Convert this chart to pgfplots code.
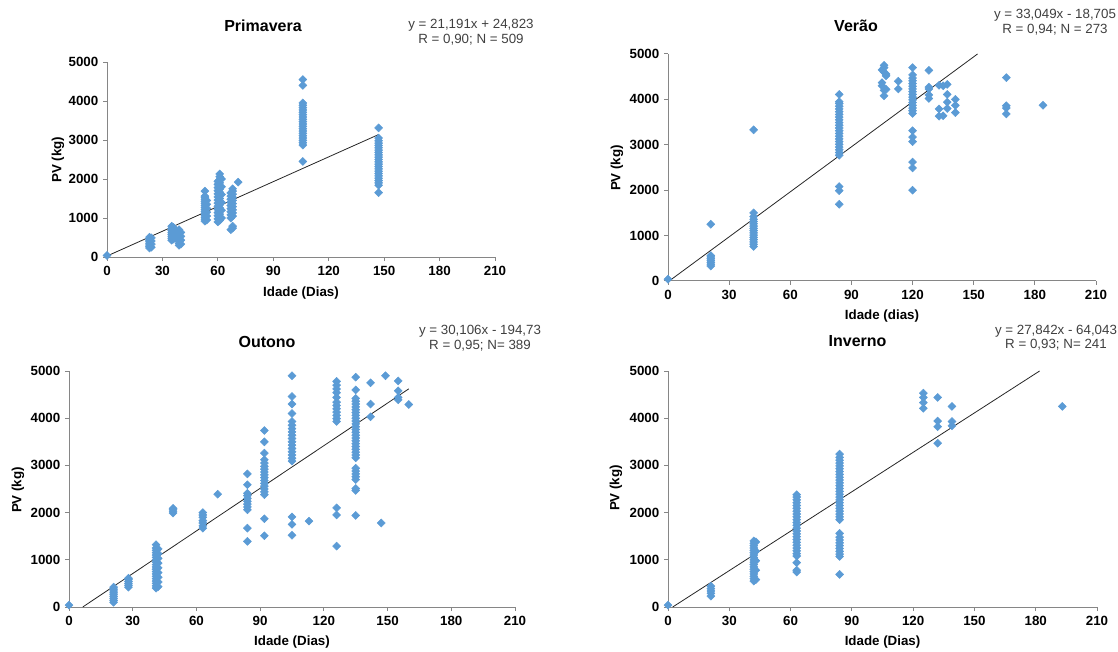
\documentclass[border=0pt]{standalone}
\usepackage{fontspec}
\setmainfont{Liberation Sans}
\setsansfont{Liberation Sans}
\usepackage{pgfplots}
\pgfplotsset{compat=1.18}
\definecolor{pts}{HTML}{5B9BD5}
\definecolor{axgray}{HTML}{868686}
\definecolor{eqgray}{HTML}{404040}

\pgfplotsset{
  panel/.style={
    scale only axis, clip=false,
    xmin=0, xmax=210, ymin=0, ymax=5000,
    xtick={0,30,...,210}, ytick={0,1000,...,5000},
    axis lines=left,
    axis line style={-, draw=axgray, line width=0.75pt},
    tick style={draw=axgray, line width=0.75pt},
    tick align=outside, major tick length=3pt,
    /pgf/number format/assume math mode=true,
    /pgf/number format/1000 sep={},
    ticklabel style={font=\bfseries\fontsize{10}{12}\selectfont},
  },
  dots/.style={only marks, mark=square*, mark size=2.1pt,
    mark options={rotate=45, fill=pts, draw=pts}},
  trend/.style={black!85, line width=0.6pt, no marks},
}
\newcommand{\ttl}[1]{\bfseries\fontsize{12}{14}\selectfont #1}
\newcommand{\lab}[1]{\bfseries\fontsize{10}{12}\selectfont #1}

\begin{document}
\begin{tikzpicture}
\useasboundingbox (0,0) rectangle (838.5pt,488.25pt);

% ---------------- Primavera
\begin{axis}[panel, at={(80.25pt,295.5pt)}, anchor=south west,
  width=291pt, height=146.25pt]
\addplot[trend] coordinates {(0,24.8) (147,3139.9)};
\addplot[dots] coordinates {
 (0,40)
 (23,230)(23,270)(23,310)(23,350)(23,390)(23,430)(23,470)(23,510)(24,250)(24,330)(24,410)(24,490)
 (35,430)(35,480)(35,530)(35,580)(35,630)(35,680)(35,730)(35,790)(36,460)(36,560)(36,660)(36,760)
 (39,300)(39,350)(39,400)(39,450)(39,500)(39,550)(39,600)(39,650)(39,700)(40,330)(40,430)(40,530)(40,630)
 (53,920)(53,970)(53,1020)(53,1070)(53,1120)(53,1170)(53,1220)(53,1270)(53,1320)(53,1370)(53,1420)
 (53,1470)(53,1520)(53,1560)(53,1690)(54,950)(54,1050)(54,1150)(54,1250)(54,1350)(54,1450)
 (60,900)(60,980)(60,1060)(60,1140)(60,1220)(60,1300)(60,1380)(60,1460)(60,1540)(60,1620)(60,1700)
 (60,1780)(60,1860)(60,1940)(61,940)(61,1020)(61,1100)(61,1180)(61,1260)(61,1340)(61,1420)(61,1500)
 (61,1580)(61,1660)(61,1740)(61,1820)(61,1900)(61,1980)(61,2060)(61,2130)(62,1000)(62,1200)(62,1400)
 (62,1600)(62,1800)(62,2000)
 (67,700)(68,740)(68,790)(67,1000)(67,1080)(67,1160)(67,1240)(67,1320)(67,1400)(67,1480)(67,1560)
 (67,1640)(68,1050)(68,1130)(68,1210)(68,1290)(68,1370)(68,1450)(68,1530)(68,1610)(68,1690)(68,1750)
 (71,1920)
 (106,2450)(106,2870)(106,2930)(106,2990)(106,3050)(106,3110)(106,3170)(106,3230)(106,3290)(106,3350)
 (106,3410)(106,3470)(106,3530)(106,3590)(106,3650)(106,3710)(106,3770)(106,3830)(106,3890)(106,3950)
 (106,4400)(106,4550)
 (147,1650)(147,1840)(147,1900)(147,1960)(147,2020)(147,2080)(147,2140)(147,2200)(147,2260)(147,2320)
 (147,2380)(147,2440)(147,2500)(147,2560)(147,2620)(147,2680)(147,2740)(147,2800)(147,2860)(147,2920)
 (147,2980)(147,3050)(147,3310)
};
\end{axis}

% ---------------- Verão
\begin{axis}[panel, at={(501pt,277.5pt)}, anchor=south west,
  width=321pt, height=170.25pt]
\addplot[trend] coordinates {(0.57,0) (151.86,5000)};
\addplot[dots] coordinates {
 (0,40)
 (21,330)(21,370)(21,410)(21,450)(21,490)(21,530)(21,560)(21,1250)
 (42,760)(42,810)(42,860)(42,910)(42,960)(42,1010)(42,1060)(42,1110)(42,1160)(42,1210)(42,1260)
 (42,1310)(42,1360)(42,1420)(42,1500)(42,3330)
 (84,1690)(84,1990)(84,2080)(84,2770)(84,2830)(84,2890)(84,2950)(84,3010)(84,3070)(84,3130)(84,3190)
 (84,3250)(84,3310)(84,3370)(84,3430)(84,3490)(84,3550)(84,3610)(84,3670)(84,3730)(84,3790)(84,3850)
 (84,3910)(84,3950)(84,4110)
 (105,4650)(105,4370)(105,4300)(106,4750)(106,4700)(106,4600)(106,4200)(106,4080)(107,4560)(107,4520)(107,4220)
 (113,4400)(113,4230)
 (120,2000)(120,2490)(120,2620)(120,3070)(120,3170)(120,3310)(120,3690)(120,3750)(120,3810)(120,3870)
 (120,3930)(120,3990)(120,4050)(120,4110)(120,4170)(120,4230)(120,4290)(120,4350)(120,4410)(120,4470)
 (120,4540)(120,4700)
 (128,4640)(128,4270)(128,4230)(128,4100)(128,4020)
 (133,4310)(133,3790)(133,3630)(135,4300)(135,3640)
 (137,4330)(137,4110)(137,3940)(137,3800)
 (141,4000)(141,3870)(141,3710)
 (166,4480)(166,3860)(166,3810)(166,3680)
 (184,3870)
};
\end{axis}

% ---------------- Outono
\begin{axis}[panel, at={(51.75pt,33pt)}, anchor=south west,
  width=334.5pt, height=177pt]
\addplot[trend] coordinates {(6.47,0) (160,4622.2)};
\addplot[dots] coordinates {
 (0,40)
 (21,100)(21,140)(21,180)(21,220)(21,260)(21,300)(21,340)(21,380)(21,420)
 (28,420)(28,460)(28,500)(28,540)(28,580)(28,610)
 (41,400)(41,450)(41,500)(41,550)(41,600)(41,650)(41,700)(41,750)(41,800)(41,850)(41,900)(41,950)
 (41,1000)(41,1050)(41,1100)(41,1150)(41,1200)(41,1250)(41,1320)(42,430)(42,530)(42,630)(42,730)
 (42,830)(42,930)(42,1030)(42,1130)(42,1230)
 (49,1990)(49,2030)(49,2070)(49,2090)
 (63,1670)(63,1720)(63,1780)(63,1830)(63,1900)(63,1950)(63,2000)
 (70,2390)
 (84,1390)(84,1670)(84,2060)(84,2120)(84,2180)(84,2240)(84,2300)(84,2360)(84,2410)(84,2590)(84,2820)
 (92,1510)(92,1870)(92,2380)(92,2440)(92,2500)(92,2560)(92,2620)(92,2680)(92,2740)(92,2800)(92,2860)
 (92,2920)(92,2980)(92,3050)(92,3120)(92,3260)(92,3500)(92,3740)
 (105,1520)(105,1750)(105,1910)(105,3090)(105,3150)(105,3220)(105,3290)(105,3360)(105,3430)(105,3500)
 (105,3570)(105,3640)(105,3710)(105,3780)(105,3850)(105,3930)(105,4100)(105,4300)(105,4460)(105,4900)
 (113,1820)
 (126,1290)(126,1950)(126,2100)(126,3930)(126,3990)(126,4060)(126,4130)(126,4200)(126,4270)(126,4340)
 (126,4440)(126,4540)(126,4620)(126,4700)(126,4780)
 (135,1940)(135,2470)(135,2510)(135,2700)(135,2760)(135,2820)(135,2880)(135,2940)(135,3160)(135,3220)
 (135,3280)(135,3340)(135,3400)(135,3460)(135,3520)(135,3580)(135,3640)(135,3700)(135,3760)(135,3820)
 (135,3880)(135,3940)(135,4000)(135,4060)(135,4120)(135,4180)(135,4240)(135,4300)(135,4360)(135,4420)
 (135,4600)(135,4870)
 (142,4030)(142,4300)(142,4750)
 (147,1780)(149,4900)
 (155,4390)(155,4440)(155,4580)(155,4790)
 (160,4290)
};
\end{axis}

% ---------------- Inverno
\begin{axis}[panel, at={(501pt,33pt)}, anchor=south west,
  width=321.75pt, height=177pt]
\addplot[trend] coordinates {(2.30,0) (181.89,5000)};
\addplot[dots] coordinates {
 (0,40)
 (21,230)(21,290)(21,340)(21,390)(21,440)
 (42,550)(42,600)(42,650)(42,700)(42,750)(42,800)(42,850)(42,900)(42,950)(42,1000)(42,1050)(42,1100)
 (42,1150)(42,1200)(42,1250)(42,1300)(42,1350)(42,1400)(43,580)(43,780)(43,980)(43,1180)(43,1380)
 (63,740)(63,780)(63,940)(63,1080)(63,1130)(63,1190)(63,1250)(63,1310)(63,1370)(63,1430)(63,1490)
 (63,1550)(63,1610)(63,1670)(63,1730)(63,1790)(63,1850)(63,1910)(63,1970)(63,2030)(63,2090)(63,2150)
 (63,2210)(63,2270)(63,2330)(63,2380)
 (84,690)(84,1070)(84,1120)(84,1180)(84,1240)(84,1300)(84,1360)(84,1420)(84,1480)(84,1560)
 (84,1850)(84,1910)(84,1970)(84,2030)(84,2090)(84,2150)(84,2210)(84,2270)(84,2330)(84,2390)(84,2450)
 (84,2510)(84,2570)(84,2630)(84,2690)(84,2750)(84,2810)(84,2870)(84,2930)(84,2990)(84,3050)(84,3110)
 (84,3170)(84,3240)
 (125,4210)(125,4330)(125,4440)(125,4530)
 (132,3470)(132,3820)(132,3940)(132,4440)
 (139,3840)(139,3930)(139,4250)
 (193,4250)
};
\end{axis}

% ---------------- titles, equations, labels
\node at (197.25pt,468.75pt) {\ttl{Primavera}};
\node[align=center, text=eqgray, font=\fontsize{10}{11}\selectfont] at (353.25pt,463.9pt)
  {y = 21,191x + 24,823\\R = 0,90; N = 509};
\node at (225.75pt,268.5pt) {\lab{Idade (Dias)}};
\node[rotate=90] at (43.5pt,368.6pt) {\lab{PV (kg)}};

\node at (642pt,468.75pt) {\ttl{Verão}};
\node[align=center, text=eqgray, font=\fontsize{10}{11}\selectfont] at (791.25pt,471.75pt)
  {y = 33,049x - 18,705\\R = 0,94; N = 273};
\node at (661.5pt,251.25pt) {\lab{Idade (dias)}};
\node[rotate=90] at (462.75pt,362.25pt) {\lab{PV (kg)}};

\node at (200.25pt,231.75pt) {\ttl{Outono}};
\node[align=center, text=eqgray, font=\fontsize{10}{11}\selectfont] at (360pt,234.75pt)
  {y = 30,106x - 194,73\\R = 0,95; N= 389};
\node at (219pt,6.75pt) {\lab{Idade (Dias)}};
\node[rotate=90] at (13.5pt,120.75pt) {\lab{PV (kg)}};

\node at (643.2pt,232.5pt) {\ttl{Inverno}};
\node[align=center, text=eqgray, font=\fontsize{10}{11}\selectfont] at (792pt,235.1pt)
  {y = 27,842x - 64,043\\R = 0,93; N= 241};
\node at (661.9pt,6.75pt) {\lab{Idade (Dias)}};
\node[rotate=90] at (462pt,122.25pt) {\lab{PV (kg)}};
\end{tikzpicture}
\end{document}
